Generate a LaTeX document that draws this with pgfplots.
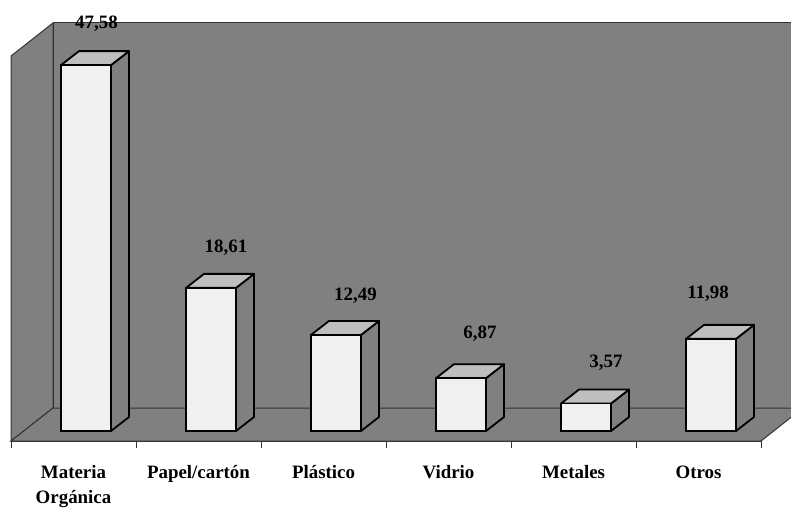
\documentclass[border=0pt]{standalone}
\usepackage{fontspec}
\setmainfont{Liberation Serif}
\usepackage{pgfplots}
\usepackage{pgfplotstable}
\pgfplotsset{compat=1.18}

\definecolor{wall}{HTML}{808080}
\definecolor{edge}{HTML}{333333}
\definecolor{front}{HTML}{F0F0F0}
\definecolor{topface}{HTML}{BEBEBE}

% k = category, v = value, lx/ly = label offset from the top of the front face
\pgfplotstableread{
k v lab lx ly
0 47.58 47,58 23 41.5
1 18.61 18,61 27.5 40.5
2 12.49 12,49 32 39.5
3 6.87 6,87 31.5 44.5
4 3.57 3,57 32.5 40.5
5 11.98 11,98 9.5 45.5
}\data

\begin{document}
\begin{tikzpicture}
\path[use as bounding box] (-11pt,-67pt) rectangle (780pt,441pt);
\begin{axis}[
    at={(0pt,0pt)},
    anchor=south west,
    scale only axis,
    x=125pt, y=7.69pt,
    xmin=-0.5, xmax=5.5,
    ymin=-1.3, ymax=53.06,
    clip=false,
    axis y line=none,
    axis x line=bottom,
    axis line style={-, draw=edge, line width=1pt},
    xtick={0,1,2,3,4,5},
    xticklabels={{Materia\\Orgánica},Papel/cartón,Plástico,Vidrio,Metales,Otros},
    major x tick style={draw=none},
    minor xtick={-0.5,0.5,1.5,2.5,3.5,4.5,5.5},
    minor tick length=7pt,
    minor x tick style={draw=edge, line width=1pt},
    tick align=outside,
    xticklabel style={align=center, yshift=-17pt, font=\fontsize{18.9}{25}\selectfont\bfseries},
]
% walls and floor
\addplot[fill=wall, draw=edge, line width=1pt] coordinates {(-0.5,-1.3) (-0.5,48.76) (-0.164,53.06) (-0.164,2.99)} -- cycle;
\addplot[fill=wall, draw=edge, line width=1pt] coordinates {(-0.164,2.99) (5.8,2.99) (5.8,53.06) (-0.164,53.06)} -- cycle;
\addplot[fill=wall, draw=edge, line width=1pt] coordinates {(-0.5,-1.3) (5.5,-1.3) (5.8,2.55) (5.8,2.99) (-0.164,2.99)} -- cycle;

% side and top faces of every bar
\pgfplotsinvokeforeach{0,...,5}{
    \pgfplotstablegetelem{#1}{v}\of\data
    \let\val\pgfplotsretval
    \pgfmathsetmacro\xl{#1-0.1}
    \pgfmathsetmacro\xr{#1+0.3}
    \pgfmathsetmacro\xb{#1+0.444}
    \pgfmathsetmacro\xt{#1+0.044}
    \pgfmathsetmacro\vb{\val+1.82}
    \edef\faces{
        \noexpand\addplot[fill=wall, draw=black, line width=1.8pt, line join=round]
            coordinates {(\xr,0) (\xb,1.82) (\xb,\vb) (\xr,\val)} -- cycle;
        \noexpand\addplot[fill=topface, draw=black, line width=1.8pt, line join=round]
            coordinates {(\xl,\val) (\xt,\vb) (\xb,\vb) (\xr,\val)} -- cycle;
    }
    \faces
}

% front faces with the value labels
\addplot[
    ybar, bar width=50pt, bar shift=12.5pt,
    fill=front, draw=black, line width=1.8pt,
    point meta=explicit symbolic,
    visualization depends on={\thisrow{lx} \as \lx},
    visualization depends on={\thisrow{ly} \as \ly},
    nodes near coords,
    every node near coord/.append style={
        anchor=center, xshift=\lx pt, yshift=\ly pt, text=black,
        font=\fontsize{18.9}{22}\selectfont\bfseries},
] table[x=k, y=v, meta=lab] {\data};
\end{axis}
\end{tikzpicture}
\end{document}
